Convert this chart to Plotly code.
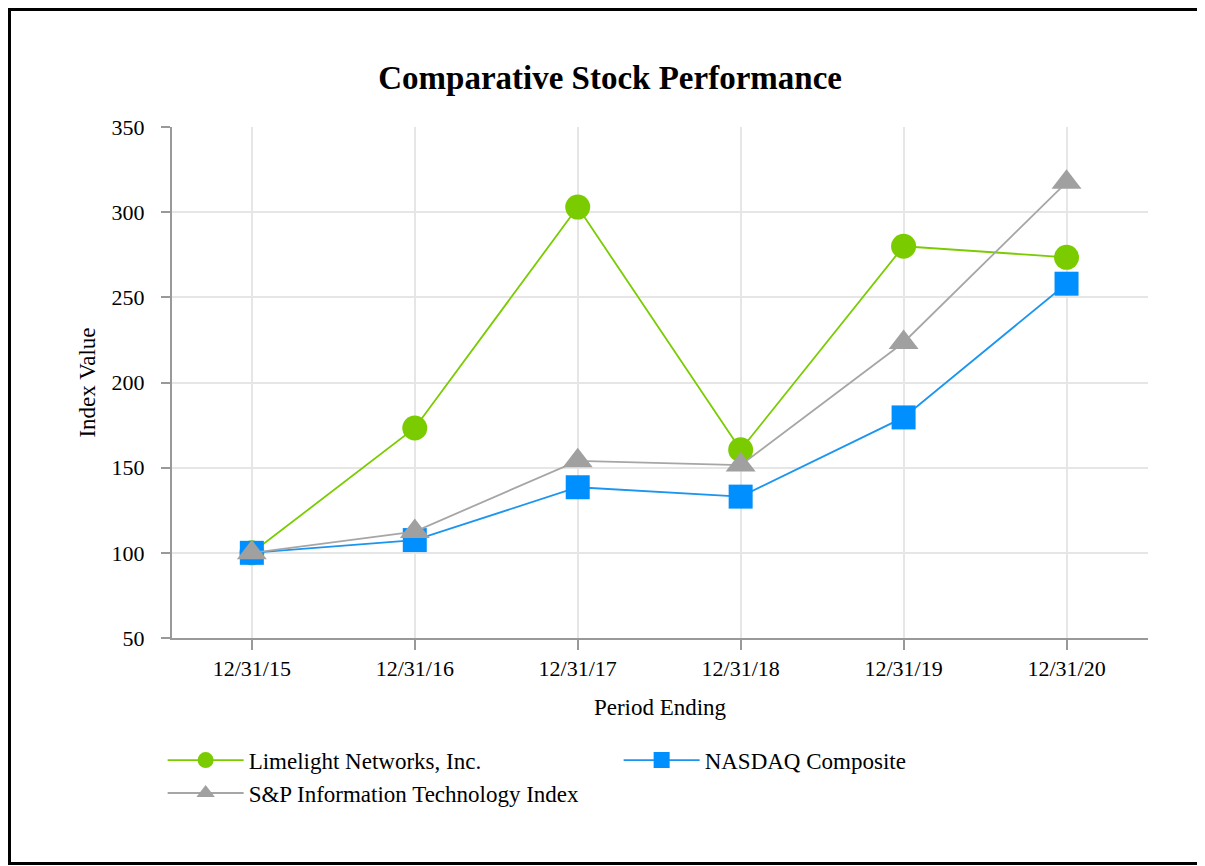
import plotly.graph_objects as go

periods = ["12/31/15", "12/31/16", "12/31/17", "12/31/18", "12/31/19", "12/31/20"]
limelight = [100, 173.3, 303, 160.5, 280, 273.5]
nasdaq = [100, 107.5, 138.5, 133, 179.5, 258]
sp_it = [100, 112.5, 154, 151.5, 223.5, 317.5]

FONT = "Liberation Serif"
W, H = 1197, 858
ML, MR, MT, MB = 164, 57, 119, 228
PW, PH = W - ML - MR, H - MT - MB

fig = go.Figure()
fig.add_trace(go.Scatter(x=periods, y=limelight, name="Limelight Networks, Inc.",
                         mode="lines+markers",
                         line=dict(color="#7acc00", width=1.8),
                         marker=dict(symbol="circle", size=25, color="#7acc00")))
fig.add_trace(go.Scatter(x=periods, y=nasdaq, name="NASDAQ Composite",
                         mode="lines+markers",
                         line=dict(color="#1b95f0", width=1.8),
                         marker=dict(symbol="square", size=24, color="#008fff")))
fig.add_trace(go.Scatter(x=periods, y=sp_it, name="S&P Information Technology Index",
                         mode="lines+markers",
                         line=dict(color="#a6a6a6", width=1.8),
                         marker=dict(symbol="triangle-up", size=26, color="#a0a0a0")))

fig.update_layout(
    width=W, height=H,
    paper_bgcolor="white", plot_bgcolor="white",
    margin=dict(l=ML, r=MR, t=MT, b=MB),
    font=dict(family=FONT, size=22, color="black"),
    title=dict(text="<b>Comparative Stock Performance</b>", x=0.503, xanchor="center",
               y=1 - 69 / H, yanchor="middle",
               font=dict(family=FONT, size=33, color="black")),
    showlegend=True,
    legend=dict(orientation="h", x=-0.0096, xanchor="left", y=-0.197, yanchor="top",
                entrywidth=365, entrywidthmode="pixels", itemwidth=76,
                font=dict(family=FONT, size=23, color="black"),
                traceorder="normal", tracegroupgap=0),
    xaxis=dict(type="category", range=[-0.49, 5.5],
               showline=True, linecolor="#999999", linewidth=2,
               showgrid=True, gridcolor="#e6e6e6", gridwidth=1.5,
               ticks="outside", ticklen=10, tickcolor="#999999", tickwidth=1.5,
               tickfont=dict(family=FONT, size=22, color="black"),
               title=dict(text="Period Ending", font=dict(family=FONT, size=23, color="black"),
                          standoff=18)),
    yaxis=dict(range=[50, 350], tickvals=[50, 100, 150, 200, 250, 300, 350],
               showline=True, linecolor="#999999", linewidth=2,
               showgrid=True, gridcolor="#e6e6e6", gridwidth=1.5,
               ticks="outside", ticklen=9, tickcolor="#999999", tickwidth=1.5,
               ticklabelstandoff=12,
               zeroline=False,
               tickfont=dict(family=FONT, size=22, color="black"),
               title=dict(text="Index Value", font=dict(family=FONT, size=23, color="black"),
                          standoff=10)),
    shapes=[dict(type="rect", xref="paper", yref="paper",
                 x0=(1.5 - ML) / PW, x1=(1195 - ML) / PW,
                 y0=-(MB - 2.5) / PH, y1=1 + (MT - 1.5) / PH,
                 line=dict(color="black", width=3), fillcolor="rgba(0,0,0,0)", layer="above")],
)

fig.write_html("out.html")
